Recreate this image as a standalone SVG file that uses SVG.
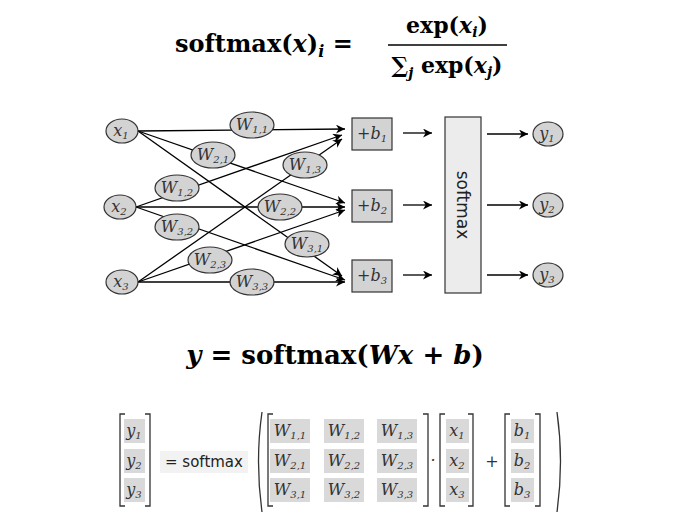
<svg xmlns="http://www.w3.org/2000/svg" width="679" height="530" viewBox="0 0 679 530">
<defs>
<marker id="ah" viewBox="0 0 10 10" refX="10" refY="5" markerWidth="9" markerHeight="9" markerUnits="userSpaceOnUse" orient="auto"><path d="M0,0 L10,5 L0,10 L3,5 z" fill="#000"/></marker>
<style>
.n{fill:#d3d3d3;stroke:#333;stroke-width:1.2}
.m{font-family:"DejaVu Serif",serif;font-style:italic;font-size:16px;fill:#333;text-anchor:middle}
.s{font-size:10px}
.c{stroke:#000;stroke-width:1.3;fill:none;marker-end:url(#ah)}
.f{font-family:"DejaVu Serif",serif;font-weight:bold;fill:#000}
.cell{fill:#d9d9d9}
.br{stroke:#333;stroke-width:1.3;fill:none}
</style>
</defs>
<rect width="679" height="530" fill="#fff"/>
<text class="f" x="175" y="52" font-size="24">softmax(<tspan font-style="italic">x</tspan>)<tspan font-style="italic" font-size="16" dy="5">i</tspan><tspan dy="-5"> =</tspan></text>
<text class="f" x="447" y="33" font-size="22" text-anchor="middle">exp(<tspan font-style="italic">x</tspan><tspan font-style="italic" font-size="14" dy="4">i</tspan><tspan dy="-4">)</tspan></text>
<line x1="388" y1="45" x2="507" y2="45" stroke="#000" stroke-width="1.5"/>
<text class="f" x="447" y="73" font-size="22" text-anchor="middle">∑<tspan font-style="italic" font-size="14" dy="5">j</tspan><tspan dy="-5"> exp(</tspan><tspan font-style="italic">x</tspan><tspan font-style="italic" font-size="14" dy="4">j</tspan><tspan dy="-4">)</tspan></text>
<g id="connectors">
<line class="c" x1="138" y1="131" x2="345" y2="129"/>
<line class="c" x1="138" y1="131" x2="345" y2="203"/>
<line class="c" x1="138" y1="131" x2="342" y2="276"/>
<line class="c" x1="136" y1="207" x2="342" y2="135"/>
<line class="c" x1="136" y1="207" x2="345" y2="207"/>
<line class="c" x1="136" y1="207" x2="345" y2="280"/>
<line class="c" x1="138" y1="282" x2="342" y2="139"/>
<line class="c" x1="138" y1="282" x2="345" y2="210"/>
<line class="c" x1="138" y1="282" x2="345" y2="282"/>
<line class="c" x1="403" y1="133" x2="432" y2="133"/>
<line class="c" x1="403" y1="205" x2="432" y2="205"/>
<line class="c" x1="403" y1="275" x2="432" y2="275"/>
<line class="c" x1="487" y1="134" x2="528" y2="134"/>
<line class="c" x1="487" y1="205" x2="528" y2="205"/>
<line class="c" x1="487" y1="275" x2="528" y2="275"/>
</g>
<g id="x1"><ellipse class="n" cx="122" cy="131" rx="16" ry="12"/><text class="m" x="121" y="136">x<tspan class="s" dy="3">1</tspan></text></g>
<g id="x2"><ellipse class="n" cx="120" cy="207" rx="16" ry="12"/><text class="m" x="119" y="212">x<tspan class="s" dy="3">2</tspan></text></g>
<g id="x3"><ellipse class="n" cx="122" cy="282" rx="16" ry="12"/><text class="m" x="121" y="287">x<tspan class="s" dy="3">3</tspan></text></g>
<g id="w11"><ellipse class="n" cx="252" cy="125" rx="22" ry="13"/><text class="m" x="252" y="130">W<tspan class="s" dy="3">1,1</tspan></text></g>
<g id="w21"><ellipse class="n" cx="213" cy="155" rx="22" ry="13"/><text class="m" x="213" y="160">W<tspan class="s" dy="3">2,1</tspan></text></g>
<g id="w12"><ellipse class="n" cx="177" cy="188" rx="22" ry="13"/><text class="m" x="177" y="193">W<tspan class="s" dy="3">1,2</tspan></text></g>
<g id="w13"><ellipse class="n" cx="305" cy="165" rx="22" ry="13"/><text class="m" x="305" y="170">W<tspan class="s" dy="3">1,3</tspan></text></g>
<g id="w22"><ellipse class="n" cx="280" cy="207" rx="22" ry="13"/><text class="m" x="280" y="212">W<tspan class="s" dy="3">2,2</tspan></text></g>
<g id="w32"><ellipse class="n" cx="177" cy="227" rx="22" ry="13"/><text class="m" x="177" y="232">W<tspan class="s" dy="3">3,2</tspan></text></g>
<g id="w31"><ellipse class="n" cx="307" cy="244" rx="22" ry="13"/><text class="m" x="307" y="249">W<tspan class="s" dy="3">3,1</tspan></text></g>
<g id="w23"><ellipse class="n" cx="210" cy="260" rx="22" ry="13"/><text class="m" x="210" y="265">W<tspan class="s" dy="3">2,3</tspan></text></g>
<g id="w33"><ellipse class="n" cx="252" cy="282" rx="22" ry="13"/><text class="m" x="252" y="287">W<tspan class="s" dy="3">3,3</tspan></text></g>
<g id="b1"><rect class="n" x="352" y="118" width="40" height="32"/><text class="m" x="372" y="139" font-style="normal">+<tspan font-style="italic">b</tspan><tspan class="s" dy="3">1</tspan></text></g>
<g id="b2"><rect class="n" x="352" y="190" width="40" height="32"/><text class="m" x="372" y="211" font-style="normal">+<tspan font-style="italic">b</tspan><tspan class="s" dy="3">2</tspan></text></g>
<g id="b3"><rect class="n" x="352" y="260" width="40" height="32"/><text class="m" x="372" y="281" font-style="normal">+<tspan font-style="italic">b</tspan><tspan class="s" dy="3">3</tspan></text></g>
<g id="softmax"><rect x="445" y="117" width="36" height="176" fill="#ececec" stroke="#333" stroke-width="1.2"/><text x="463" y="205" transform="rotate(90 463 205)" font-family="DejaVu Sans,sans-serif" font-size="17" text-anchor="middle" dominant-baseline="central" fill="#222">softmax</text></g>
<g id="y1"><ellipse class="n" cx="548" cy="134" rx="15" ry="12"/><text class="m" x="547" y="139">y<tspan class="s" dy="3">1</tspan></text></g>
<g id="y2"><ellipse class="n" cx="548" cy="205" rx="15" ry="12"/><text class="m" x="547" y="210">y<tspan class="s" dy="3">2</tspan></text></g>
<g id="y3"><ellipse class="n" cx="548" cy="275" rx="15" ry="12"/><text class="m" x="547" y="280">y<tspan class="s" dy="3">3</tspan></text></g>
<text class="f" x="335" y="364" font-size="26" text-anchor="middle"><tspan font-style="italic">y</tspan> = softmax(<tspan font-style="italic">Wx</tspan> + <tspan font-style="italic">b</tspan>)</text>
<g id="matrix">
<g class="cell"><rect x="124" y="419" width="21" height="24"/><rect x="124" y="449" width="21" height="24"/><rect x="124" y="478" width="21" height="24"/>
<rect x="270" y="419" width="40" height="24"/><rect x="324" y="419" width="40" height="24"/><rect x="377" y="419" width="40" height="24"/>
<rect x="270" y="449" width="40" height="24"/><rect x="324" y="449" width="40" height="24"/><rect x="377" y="449" width="40" height="24"/>
<rect x="270" y="478" width="40" height="24"/><rect x="324" y="478" width="40" height="24"/><rect x="377" y="478" width="40" height="24"/>
<rect x="446" y="419" width="23" height="24"/><rect x="446" y="449" width="23" height="24"/><rect x="446" y="478" width="23" height="24"/>
<rect x="511" y="419" width="23" height="24"/><rect x="511" y="449" width="23" height="24"/><rect x="511" y="478" width="23" height="24"/></g>
<rect x="160" y="451" width="88" height="22" fill="#f2f2f2"/>
<path class="br" d="M125,414 h-5 v92 h5 M145,414 h5 v92 h-5"/>
<path class="br" d="M273,414 h-5 v92 h5 M423,414 h5 v92 h-5"/>
<path class="br" d="M445,414 h-5 v92 h5 M468,414 h5 v92 h-5"/>
<path class="br" d="M510,414 h-5 v92 h5 M535,414 h5 v92 h-5"/>
<path class="br" d="M262,412 Q255,461 262,512 M557,412 Q564,461 557,512"/>
<text class="m" x="134" y="436">y<tspan class="s" dy="3">1</tspan></text>
<text class="m" x="134" y="466">y<tspan class="s" dy="3">2</tspan></text>
<text class="m" x="134" y="495">y<tspan class="s" dy="3">3</tspan></text>
<text x="204" y="467" font-family="DejaVu Sans,sans-serif" font-size="15" fill="#222" text-anchor="middle">= softmax</text>
<text class="m" x="290" y="436">W<tspan class="s" dy="3">1,1</tspan></text>
<text class="m" x="344" y="436">W<tspan class="s" dy="3">1,2</tspan></text>
<text class="m" x="397" y="436">W<tspan class="s" dy="3">1,3</tspan></text>
<text class="m" x="290" y="466">W<tspan class="s" dy="3">2,1</tspan></text>
<text class="m" x="344" y="466">W<tspan class="s" dy="3">2,2</tspan></text>
<text class="m" x="397" y="466">W<tspan class="s" dy="3">2,3</tspan></text>
<text class="m" x="290" y="495">W<tspan class="s" dy="3">3,1</tspan></text>
<text class="m" x="344" y="495">W<tspan class="s" dy="3">3,2</tspan></text>
<text class="m" x="397" y="495">W<tspan class="s" dy="3">3,3</tspan></text>
<text class="m" x="433" y="466" font-style="normal">·</text>
<text class="m" x="457" y="436">x<tspan class="s" dy="3">1</tspan></text>
<text class="m" x="457" y="466">x<tspan class="s" dy="3">2</tspan></text>
<text class="m" x="457" y="495">x<tspan class="s" dy="3">3</tspan></text>
<text class="m" x="492" y="467" font-style="normal" font-size="17">+</text>
<text class="m" x="522" y="436">b<tspan class="s" dy="3">1</tspan></text>
<text class="m" x="522" y="466">b<tspan class="s" dy="3">2</tspan></text>
<text class="m" x="522" y="495">b<tspan class="s" dy="3">3</tspan></text>
</g>
</svg>
